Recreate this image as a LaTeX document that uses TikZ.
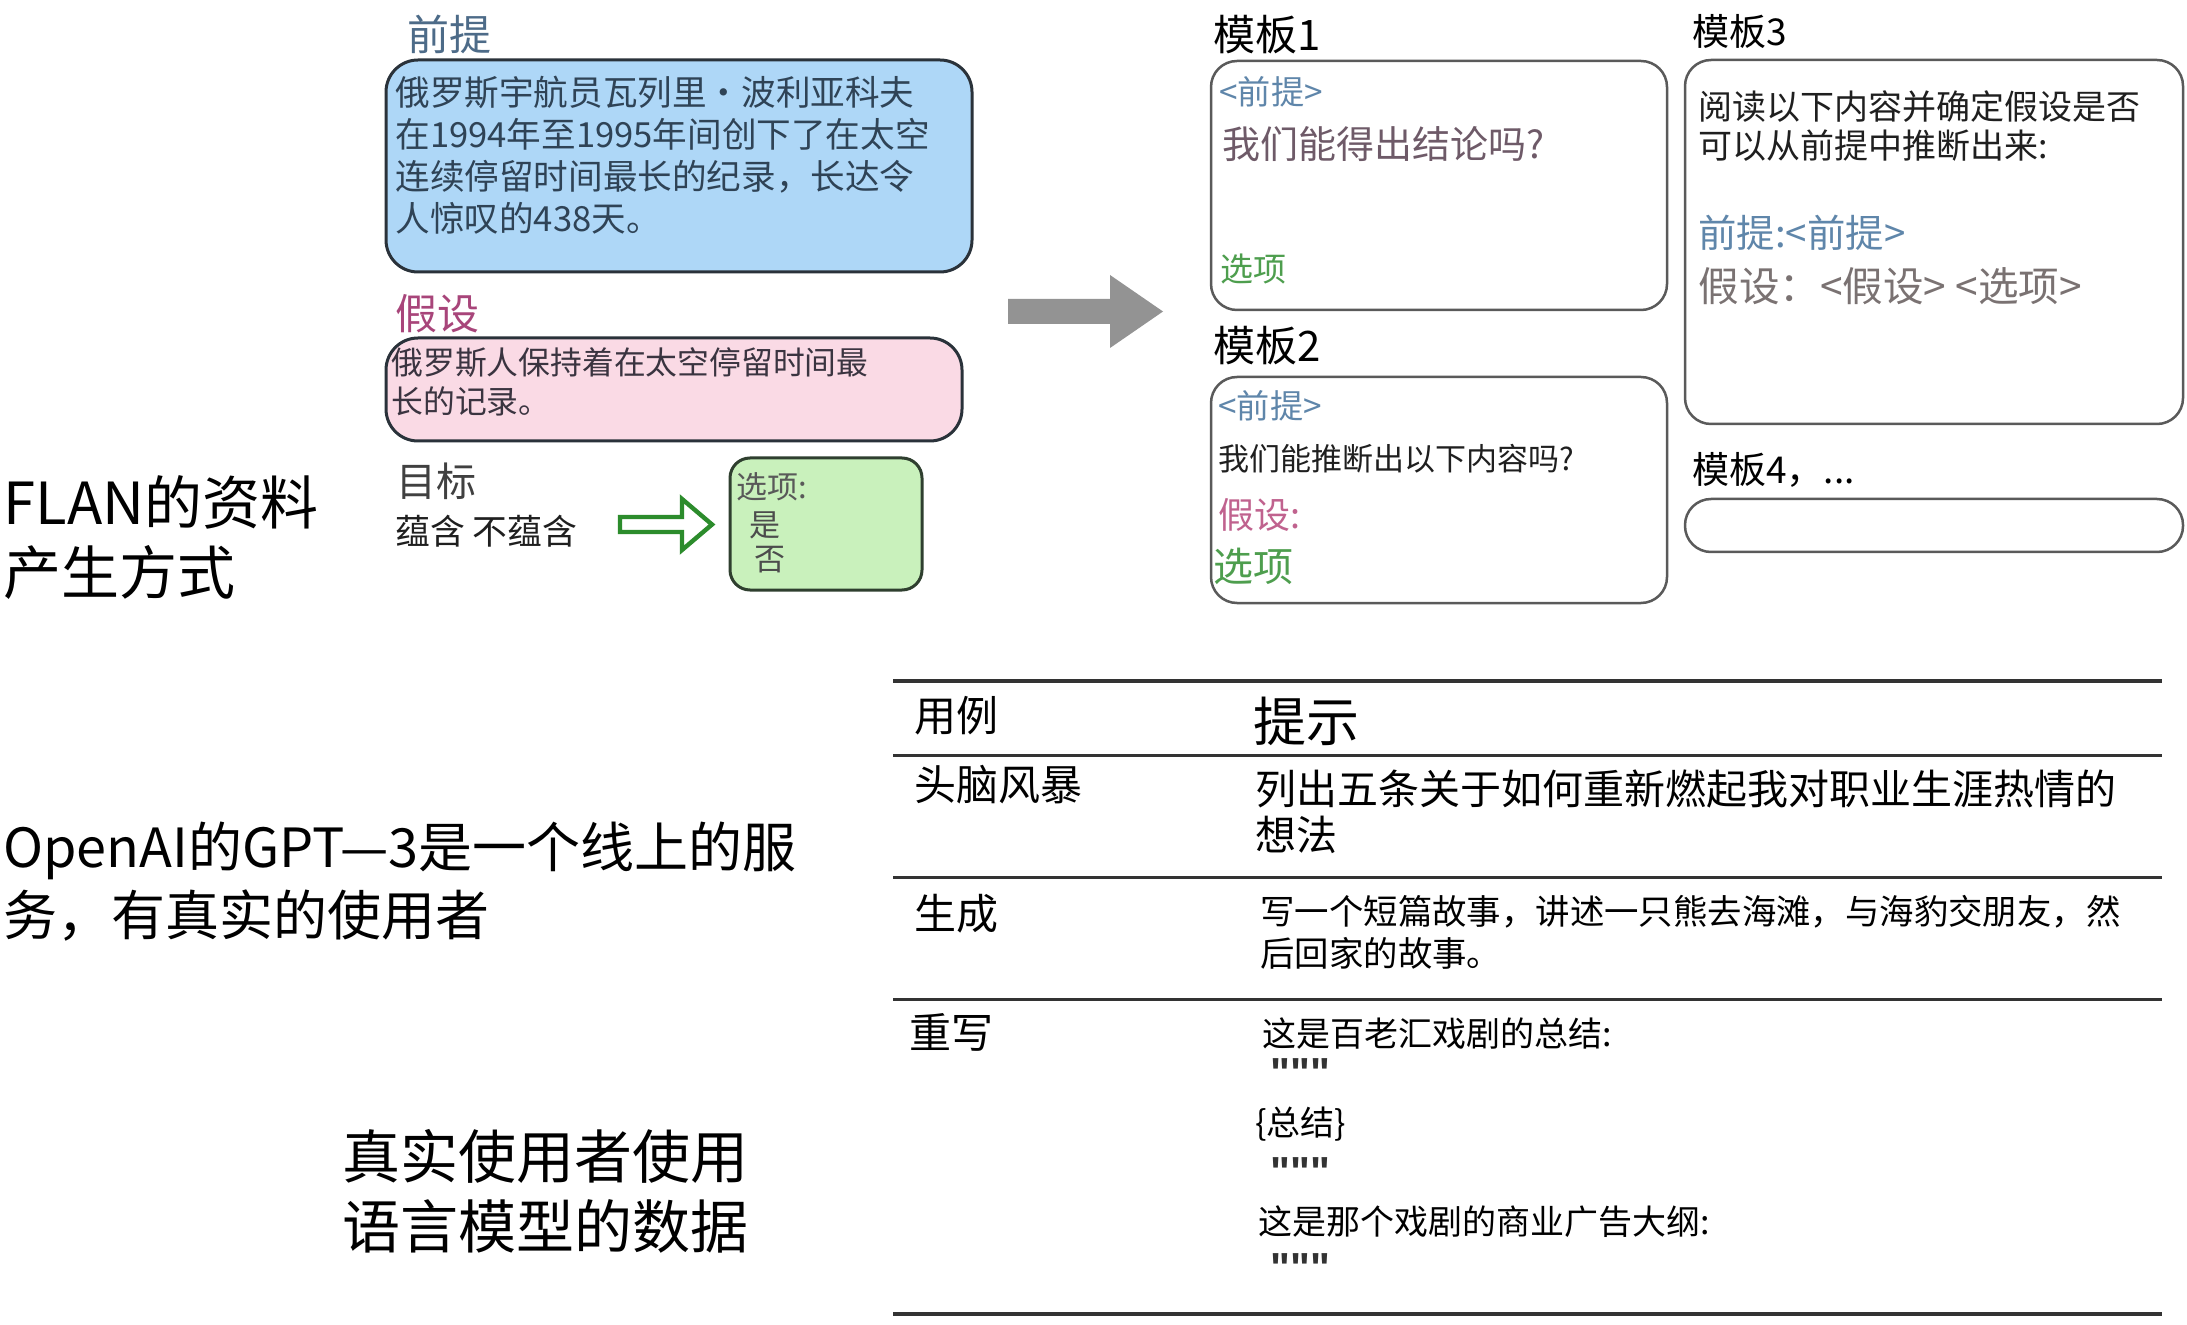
\documentclass[tikz,border=0pt]{standalone}
\usepackage{fontspec}
\setmainfont{Noto Sans CJK SC}
\newfontfamily\qfont{Liberation Sans}
\definecolor{premlbl}{HTML}{4D6B88}
\definecolor{premfill}{HTML}{AED7F7}
\definecolor{premtxt}{HTML}{2F4356}
\definecolor{hyplbl}{HTML}{A8457A}
\definecolor{hypfill}{HTML}{FADAE5}
\definecolor{hyptxt}{HTML}{3A3440}
\definecolor{boxdark}{HTML}{2A323A}
\definecolor{optfill}{HTML}{C9F1BC}
\definecolor{optborder}{HTML}{2F3F2F}
\definecolor{arrgreen}{HTML}{2C8C2C}
\definecolor{arrgray}{HTML}{939393}
\definecolor{tgray}{HTML}{5A5A5A}
\definecolor{tblue}{HTML}{5F86AA}
\definecolor{tpurple}{HTML}{6E5A68}
\definecolor{tgreen}{HTML}{4E9E4E}
\definecolor{tpink}{HTML}{C0628E}
\definecolor{tbrown}{HTML}{7A7272}
\definecolor{rulec}{HTML}{333333}
\newcommand{\myfs}[2]{\fontsize{#1}{#2}\selectfont}
\tikzset{
  txt/.style={anchor=west, inner sep=0pt, align=left},
  tbox/.style={draw=tgray, line width=1.25pt, rounded corners=13pt},
  trule/.style={draw=rulec, line width=1.5pt},
  thickrule/.style={draw=rulec, line width=2pt},
  cell/.style={txt, font={\myfs{21pt}{25pt}}, text=black},
  rw/.style={txt, font={\myfs{17pt}{21pt}}, text=black},
  quotes/.style={txt, font={\qfont\bfseries\myfs{21pt}{24pt}}, text=black!80}
}
\begin{document}
\begin{tikzpicture}[x=0.5pt,y=-0.5pt]
\fill[white] (0,0) rectangle (2187,1325);
\useasboundingbox (0,0) rectangle (2187,1325);

% ---------- left captions ----------
\node[txt, font={\myfs{29pt}{35pt}}] (flan) at (3,538) {FLAN的资料\\产生方式};
\node[txt, font={\myfs{27pt}{34pt}}] (openai) at (3,882) {OpenAI的GPT—3是一个线上的服\\务，有真实的使用者};
\node[txt, font={\myfs{29pt}{35pt}}] (real) at (342,1191) {真实使用者使用\\语言模型的数据};

% ---------- premise ----------
\node[txt, text=premlbl, font={\myfs{21pt}{24pt}}] (lprem) at (407,34) {前提};
\draw[fill=premfill, draw=boxdark, line width=1.5pt, rounded corners=16pt] (386,60) rectangle (972,272);
\node[txt, text=premtxt, font={\myfs{17.3pt}{21pt}}] (prem) at (395,155) {俄罗斯宇航员瓦列里・波利亚科夫\\在1994年至1995年间创下了在太空\\连续停留时间最长的纪录，长达令\\人惊叹的438天。};

% ---------- hypothesis ----------
\node[txt, text=hyplbl, font={\myfs{21pt}{24pt}}] (lhyp) at (395,314) {假设};
\draw[fill=hypfill, draw=boxdark, line width=1.5pt, rounded corners=16pt] (386,338) rectangle (962,441);
\node[txt, text=hyptxt, font={\myfs{15.9pt}{19.5pt}}] (hyp) at (391,382) {俄罗斯人保持着在太空停留时间最\\长的记录。};

% ---------- target ----------
\node[txt, text=black!75, font={\myfs{20pt}{24pt}}] (target) at (396,481) {目标};
\node[txt, text=black!88, font={\myfs{17.4pt}{21pt}}] (ent) at (395,531) {蕴含 不蕴含};
\draw[draw=arrgreen, fill=white, line width=2.2pt, line join=miter]
  (620,517) -- (682,517) -- (682,499) -- (712,524.5) -- (682,550) -- (682,532) -- (620,532) -- cycle;
\draw[fill=optfill, draw=optborder, line width=1.5pt, rounded corners=10pt] (730,458) rectangle (922,590);
\node[txt, text=black!65, font={\myfs{15.5pt}{18pt}}] (opt0) at (736,487) {选项:};
\node[txt, text=black!70, font={\myfs{15.5pt}{18pt}}] (opt1) at (749,525) {是};
\node[txt, text=black!70, font={\myfs{15.5pt}{18pt}}] (opt2) at (754,560) {否};

% ---------- big gray arrow ----------
\fill[arrgray] (1008,299) -- (1110,299) -- (1110,275) -- (1163,311.5) -- (1110,348) -- (1110,324) -- (1008,324) -- cycle;

% ---------- template 1 ----------
\node[txt, font={\myfs{21pt}{25pt}}] (lt1) at (1213,35) {模板1};
\draw[tbox] (1211,61) rectangle (1667,310);
\node[txt, text=tblue, font={\myfs{16.6pt}{20pt}}] (t1a) at (1219,92) {<前提>};
\node[txt, text=tpurple, font={\myfs{19pt}{23pt}}] (t1b) at (1222,144) {我们能得出结论吗?};
\node[txt, text=tgreen, font={\myfs{16.5pt}{20pt}}] (t1c) at (1220,269) {选项};

% ---------- template 2 ----------
\node[txt, font={\myfs{21pt}{25pt}}] (lt2) at (1213,346) {模板2};
\draw[tbox] (1211,377) rectangle (1667,603);
\node[txt, text=tblue, font={\myfs{16.6pt}{20pt}}] (t2a) at (1218,406) {<前提>};
\node[txt, text=black!88, font={\myfs{15.5pt}{19pt}}] (t2b) at (1218,459) {我们能推断出以下内容吗?};
\node[txt, text=tpink, font={\myfs{18pt}{21pt}}] (t2c) at (1218,515) {假设:};
\node[txt, text=tgreen, font={\myfs{20pt}{24pt}}] (t2d) at (1213,566) {选项};

% ---------- template 3 ----------
\node[txt, font={\myfs{18.5pt}{22pt}}] (lt3) at (1692,31) {模板3};
\draw[tbox] (1685,60) rectangle (2183,424);
\node[txt, text=black!88, font={\myfs{17pt}{19.5pt}}] (t3a) at (1698,126.5) {阅读以下内容并确定假设是否\\可以从前提中推断出来:};
\node[txt, text=tblue, font={\myfs{19.2pt}{22pt}}] (t3b) at (1698,233) {前提:<前提>};
\node[txt, text=tbrown, font={\myfs{20.3pt}{24pt}}] (t3c) at (1698,286) {假设：<假设> <选项>};

% ---------- template 4 ----------
\node[txt, font={\myfs{18.5pt}{22pt}}] (lt4) at (1692,470) {模板4，...};
\draw[tbox, rounded corners=13pt] (1685,499) rectangle (2183,552);

% ---------- table ----------
\draw[thickrule] (893,681) -- (2162,681);
\draw[trule] (893,755) -- (2162,755);
\draw[trule] (893,877) -- (2162,877);
\draw[trule] (893,999) -- (2162,999);
\draw[thickrule] (893,1314) -- (2162,1314);

\node[cell] (h1) at (914,716) {用例};
\node[txt, font={\myfs{26.5pt}{30pt}}] (h2) at (1253,721) {提示};

\node[cell] (c1) at (914,785) {头脑风暴};
\node[txt, font={\myfs{20.5pt}{23pt}}] (p1) at (1255,812) {列出五条关于如何重新燃起我对职业生涯热情的\\想法};

\node[cell] (c2) at (914,914) {生成};
\node[txt, font={\myfs{17.2pt}{21pt}}] (p2) at (1260,932) {写一个短篇故事，讲述一只熊去海滩，与海豹交朋友，然\\后回家的故事。};

\node[cell] (c3) at (909,1032) {重写};
\node[rw] (r1) at (1262,1034) {这是百老汇戏剧的总结:};
\node[quotes] (r2) at (1270,1073) {"""};
\node[rw] (r3) at (1255,1124) {\{总结\}};
\node[quotes] (r4) at (1270,1172) {"""};
\node[rw] (r5) at (1258,1222) {这是那个戏剧的商业广告大纲:};
\node[quotes] (r6) at (1270,1268) {"""};
\end{tikzpicture}
\end{document}
